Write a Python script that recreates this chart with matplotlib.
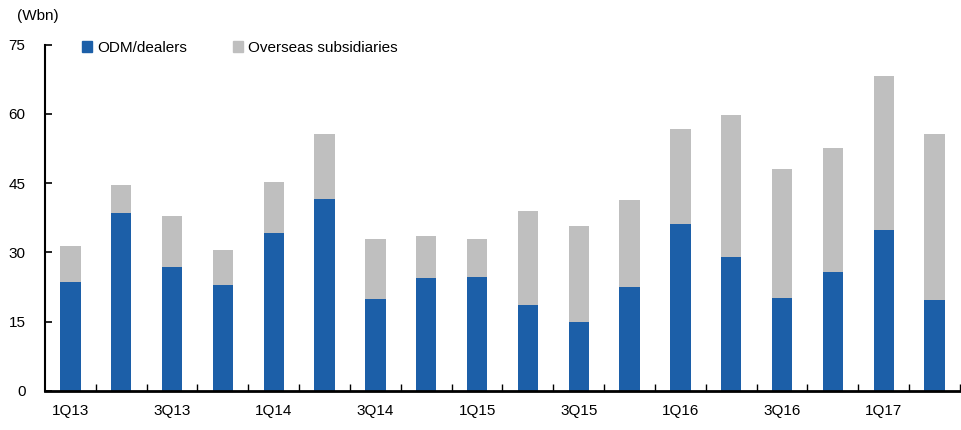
import matplotlib.pyplot as plt
import numpy as np
from matplotlib.patches import Patch

plt.rcParams["font.family"] = ["Liberation Sans", "DejaVu Sans"]
plt.rcParams["font.size"] = 11

quarters = [
    "1Q13", "2Q13", "3Q13", "4Q13", "1Q14", "2Q14", "3Q14", "4Q14", "1Q15",
    "2Q15", "3Q15", "4Q15", "1Q16", "2Q16", "3Q16", "4Q16", "1Q17", "2Q17",
]
odm_dealers = [
    23.7, 38.6, 26.9, 23.0, 34.1, 41.6, 19.9, 24.4, 24.7,
    18.6, 15.0, 22.5, 36.1, 29.1, 20.1, 25.8, 34.8, 19.7,
]
totals = [
    31.4, 44.5, 37.9, 30.6, 45.2, 55.7, 33.0, 33.5, 33.0,
    39.0, 35.8, 41.4, 56.8, 59.8, 48.1, 52.5, 68.1, 55.6,
]
overseas = [t - o for t, o in zip(totals, odm_dealers)]
y_ticks = [0, 15, 30, 45, 60, 75]

BLUE = "#1c5fa8"
GREY = "#bfbfbf"

fig = plt.figure(figsize=(9.62, 4.30), dpi=100)
ax = fig.add_axes([45 / 962, 39 / 430, 915 / 962, 346.5 / 430])

x = np.arange(len(quarters))
ax.bar(x, odm_dealers, width=0.4, color=BLUE, zorder=2)
ax.bar(x, overseas, width=0.4, bottom=odm_dealers, color=GREY, zorder=2)

ax.set_xlim(-0.5, len(quarters) - 0.5)
ax.set_ylim(0, 75)
ax.set_yticks(y_ticks)

ax.set_xticks(x[::2])
ax.set_xticklabels(quarters[::2])
ax.set_xticks(x + 0.5, minor=True)
ax.tick_params(axis="x", which="major", length=0, pad=9)
ax.tick_params(axis="x", which="minor", direction="in", length=5, width=1)
ax.tick_params(axis="y", direction="in", length=5, width=1.2, pad=14)

for side in ("top", "right"):
    ax.spines[side].set_visible(False)
ax.spines["left"].set_linewidth(1.5)
ax.spines["bottom"].set_linewidth(2)

fig.text(17 / 962, 1 - 16 / 430, "(Wbn)", va="center", ha="left")

handles = [Patch(color=BLUE), Patch(color=GREY)]
fig.legend(
    handles, ["ODM/dealers", "Overseas subsidiaries"],
    ncol=2, frameon=False,
    loc="center left", bbox_to_anchor=(68 / 962, 1 - 48 / 430),
    handlelength=0.7, handleheight=0.7, handletextpad=0.3,
    columnspacing=3.0,
)

fig.savefig("out.png", dpi=100)
